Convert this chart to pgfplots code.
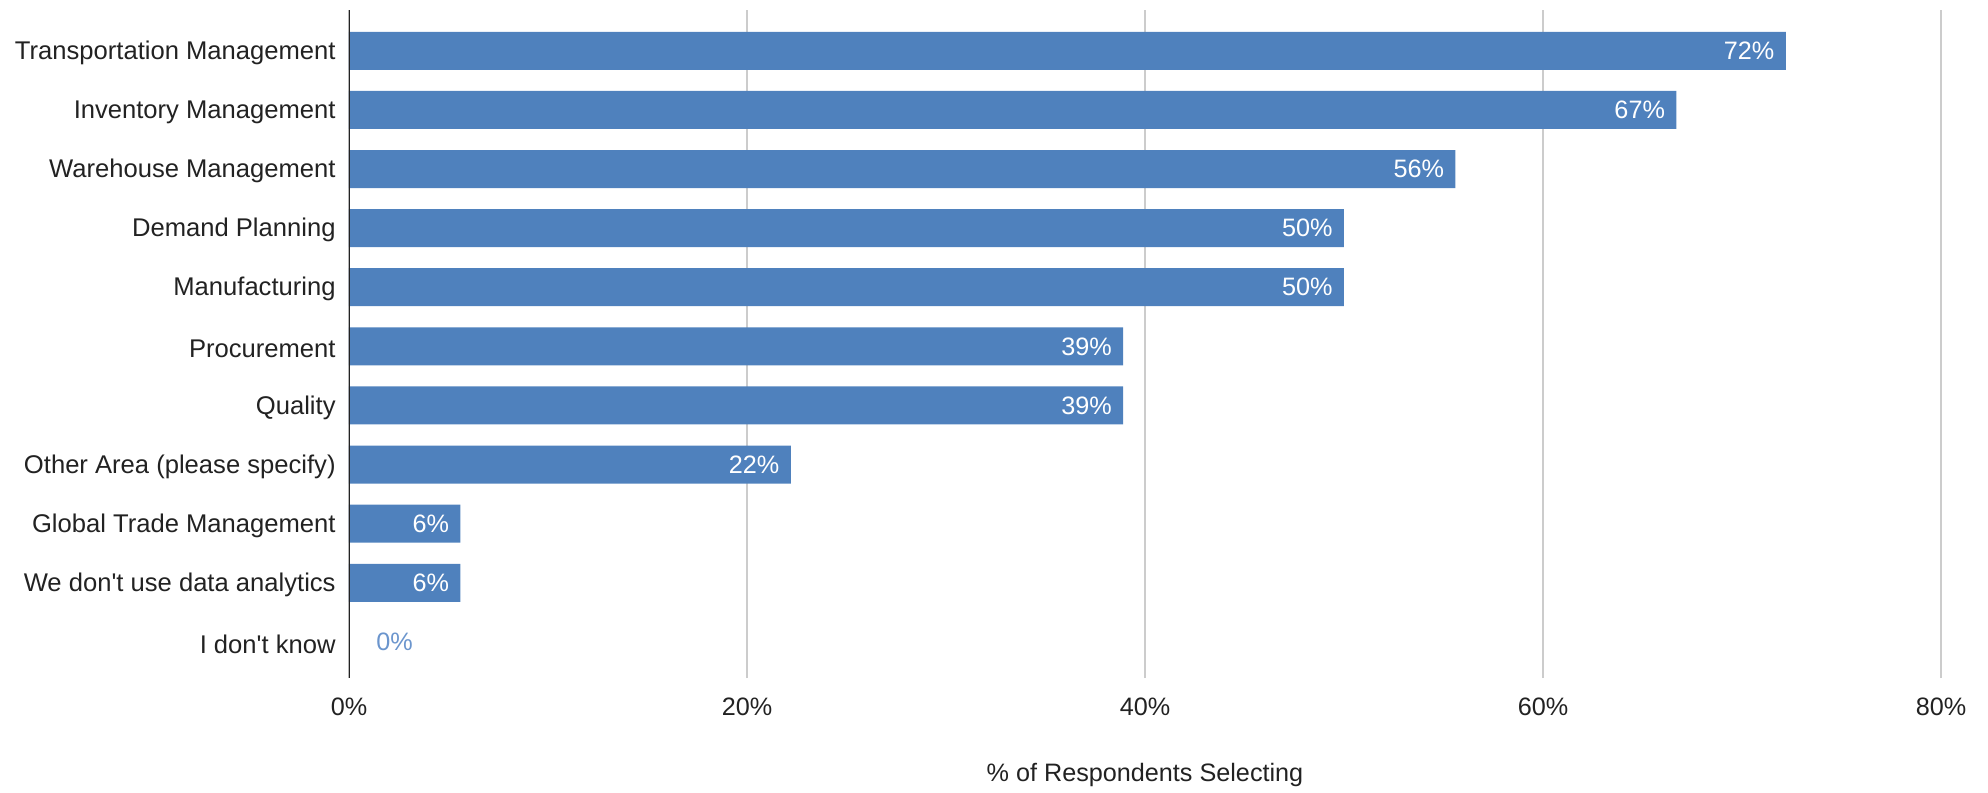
\documentclass[border=0pt]{standalone}
\usepackage{fontspec}
\setmainfont{Liberation Sans}
\usepackage{pgfplots}
\pgfplotsset{compat=1.18}
\definecolor{barblue}{RGB}{79,129,189}
\definecolor{gridgray}{RGB}{204,204,204}
\definecolor{txt}{RGB}{34,34,34}
\definecolor{lblblue}{RGB}{107,149,205}
\newcommand\lbl{\fontsize{12.6}{15}\selectfont}
\newcommand\ylbl{\fontsize{12.8}{15}\selectfont}
\begin{document}
\begin{tikzpicture}
\path[use as bounding box] (-174.5pt,-57.5pt) rectangle (819.5pt,339pt);
\begin{axis}[
  at={(0,0)}, anchor=south west,
  scale only axis, width=796pt, height=334pt,
  xmin=0, xmax=80, ymin=-0.61, ymax=10.69,
  xbar, bar width=19pt, bar shift=0pt,
  /pgf/number format/assume math mode=true,
  axis line style={draw=none},
  major tick length=0pt,
  xtick={0,20,40,60,80},
  xticklabel={\pgfmathprintnumber[fixed,precision=0]{\tick}\%},
  xticklabel style={font=\lbl, text=txt, anchor=base, inner sep=0pt, yshift=-18.5pt},
  ytick={0,1,2,3,4,5,6,7,8,9,10},
  yticklabels={I don\textquotesingle t know, We don\textquotesingle t use data analytics, Global Trade Management, Other Area (please specify), Quality, Procurement, Manufacturing, Demand Planning, Warehouse Management, Inventory Management, Transportation Management},
  yticklabel style={font=\ylbl, text=txt, inner sep=0pt, xshift=-6.5pt, yshift=-1pt},
  xmajorgrids, grid style={gridgray, line width=0.75pt},
  xlabel={\% of Respondents Selecting},
  xlabel style={font=\lbl, text=txt, at={(axis description cs:0.5,0)}, anchor=base, inner sep=0pt, yshift=-51.5pt},
]
\addplot[fill=barblue, draw=none,
  nodes near coords={\pgfmathprintnumber[fixed,precision=0]{\pgfplotspointmeta}\%},
  every node near coord/.append style={anchor=east, inner sep=0pt, xshift=-5.5pt, text=white, font=\lbl}]
  coordinates {(72.2,10) (66.7,9) (55.6,8) (50,7) (50,6) (38.9,5) (38.9,4) (22.2,3) (5.6,2) (5.6,1)};
\addplot[fill=barblue, draw=none,
  nodes near coords={\pgfmathprintnumber[fixed,precision=0]{\pgfplotspointmeta}\%},
  every node near coord/.append style={anchor=west, inner sep=0pt, xshift=13.5pt, text=lblblue, font=\lbl}]
  coordinates {(0,0)};
\draw[txt, line width=0.75pt] (axis cs:0,-0.61) -- (axis cs:0,10.69);
\end{axis}
\end{tikzpicture}
\end{document}
